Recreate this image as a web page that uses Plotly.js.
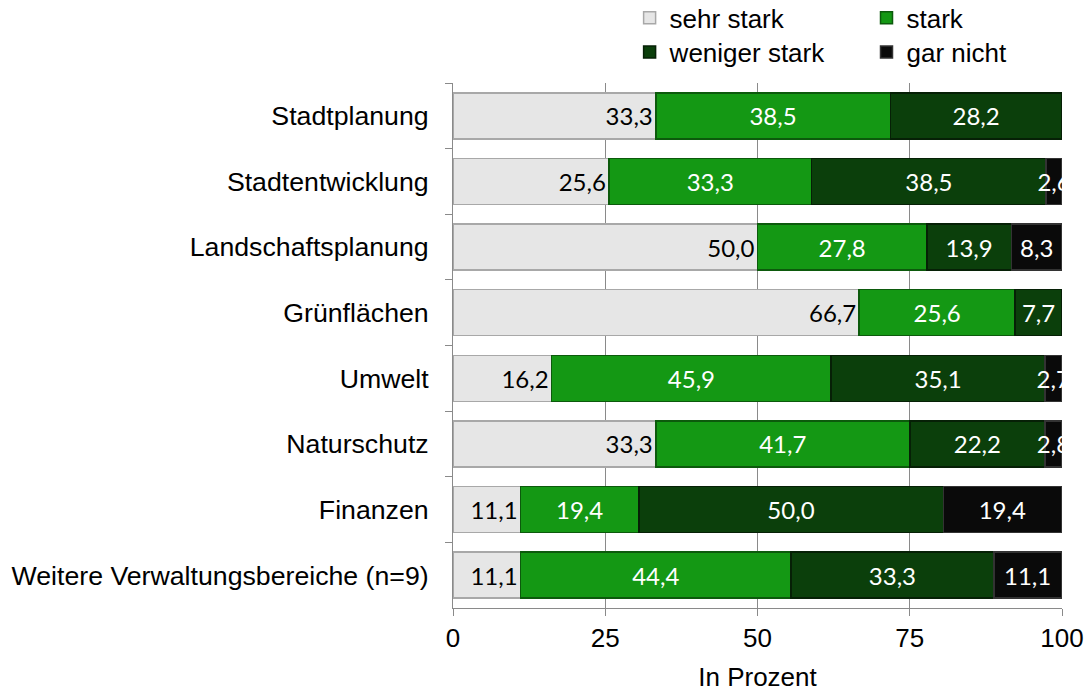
<!DOCTYPE html>
<html>
<head>
<meta charset="utf-8">
<script src="https://cdn.plot.ly/plotly-3.0.1.min.js"></script>
<style>html,body{margin:0;padding:0;background:#fff;}#chart{width:1085px;height:692px;}</style>
</head>
<body>
<div id="chart"></div>
<script>
var categories = ['Stadtplanung','Stadtentwicklung','Landschaftsplanung','Grünflächen','Umwelt','Naturschutz','Finanzen','Weitere Verwaltungsbereiche (n=9)'];
var sehrStark = [33.3, 25.6, 50.0, 66.7, 16.2, 33.3, 11.1, 11.1];
var stark = [38.5, 33.3, 27.8, 25.6, 45.9, 41.7, 19.4, 44.4];
var wenigerStark = [28.2, 38.5, 13.9, 7.7, 35.1, 22.2, 50.0, 33.3];
var garNicht = [null, 2.6, 8.3, null, 2.7, 2.8, 19.4, 11.1];
var seriesNames = ['sehr stark', 'stark', 'weniger stark', 'gar nicht'];
var xTicks = [0, 25, 50, 75, 100];

function fmt(v){ return v == null ? '' : v.toFixed(1).replace('.', ','); }

var labelFont = 'Lato, "Open Sans", sans-serif';
var arial = 'Arial, "Liberation Sans", sans-serif';

function mk(vals, name, color, lineColor, textColor, anchor, legendId){
  return {
    type: 'bar', orientation: 'h', name: name,
    y: categories, x: vals,
    text: vals.map(fmt), textposition: 'inside', insidetextanchor: anchor,
    constraintext: 'none', cliponaxis: true, textangle: 0,
    textfont: {family: labelFont, size: 24, color: textColor},
    marker: {color: color, line: {color: lineColor, width: 1.5}},
    legend: legendId, hoverinfo: 'x+y+name'
  };
}

var data = [
  mk(sehrStark, seriesNames[0], '#e6e6e6', '#a8a8a8', '#000', 'end', 'legend'),
  mk(stark, seriesNames[1], '#149814', '#0c5a0c', '#fff', 'middle', 'legend2'),
  mk(wenigerStark, seriesNames[2], '#0b3f0b', '#062006', '#fff', 'middle', 'legend3'),
  mk(garNicht, seriesNames[3], '#0a0a0a', '#333', '#fff', 'middle', 'legend4')
];

function leg(x, y){
  return {x: x, y: y, xanchor: 'left', yanchor: 'middle', orientation: 'v',
    font: {family: arial, size: 26, color: '#000'}, bgcolor: 'rgba(0,0,0,0)', borderwidth: 0};
}

var layout = {
  width: 1085, height: 692,
  margin: {l: 453, r: 23, t: 83, b: 84, pad: 0, autoexpand: false},
  paper_bgcolor: '#fff', plot_bgcolor: '#fff',
  barmode: 'stack', bargap: 0.3,
  showlegend: true,
  legend: leg(0.290, 1.124),
  legend2: leg(0.679, 1.124),
  legend3: leg(0.290, 1.059),
  legend4: leg(0.679, 1.059),
  xaxis: {
    range: [0, 100], tickvals: xTicks, ticktext: xTicks.map(String),
    showgrid: true, gridcolor: '#8a8a8a', gridwidth: 1,
    showline: true, linecolor: '#8a8a8a', linewidth: 1,
    ticks: 'outside', ticklen: 7, tickcolor: '#8a8a8a',
    zeroline: false,
    tickfont: {family: arial, size: 26, color: '#000'},
    title: {text: 'In Prozent', font: {family: arial, size: 26, color: '#000'}, standoff: 29}
  },
  yaxis: {
    type: 'category', autorange: 'reversed',
    showline: true, linecolor: '#8a8a8a', linewidth: 1,
    ticks: 'outside', ticklen: 7, tickcolor: '#8a8a8a', tickson: 'boundaries',
    showgrid: false,
    tickfont: {family: arial, size: 26.7, color: '#000'},
    ticklabelstandoff: 18
  }
};

Plotly.newPlot('chart', data, layout, {displayModeBar: false, staticPlot: true});
</script>
</body>
</html>
